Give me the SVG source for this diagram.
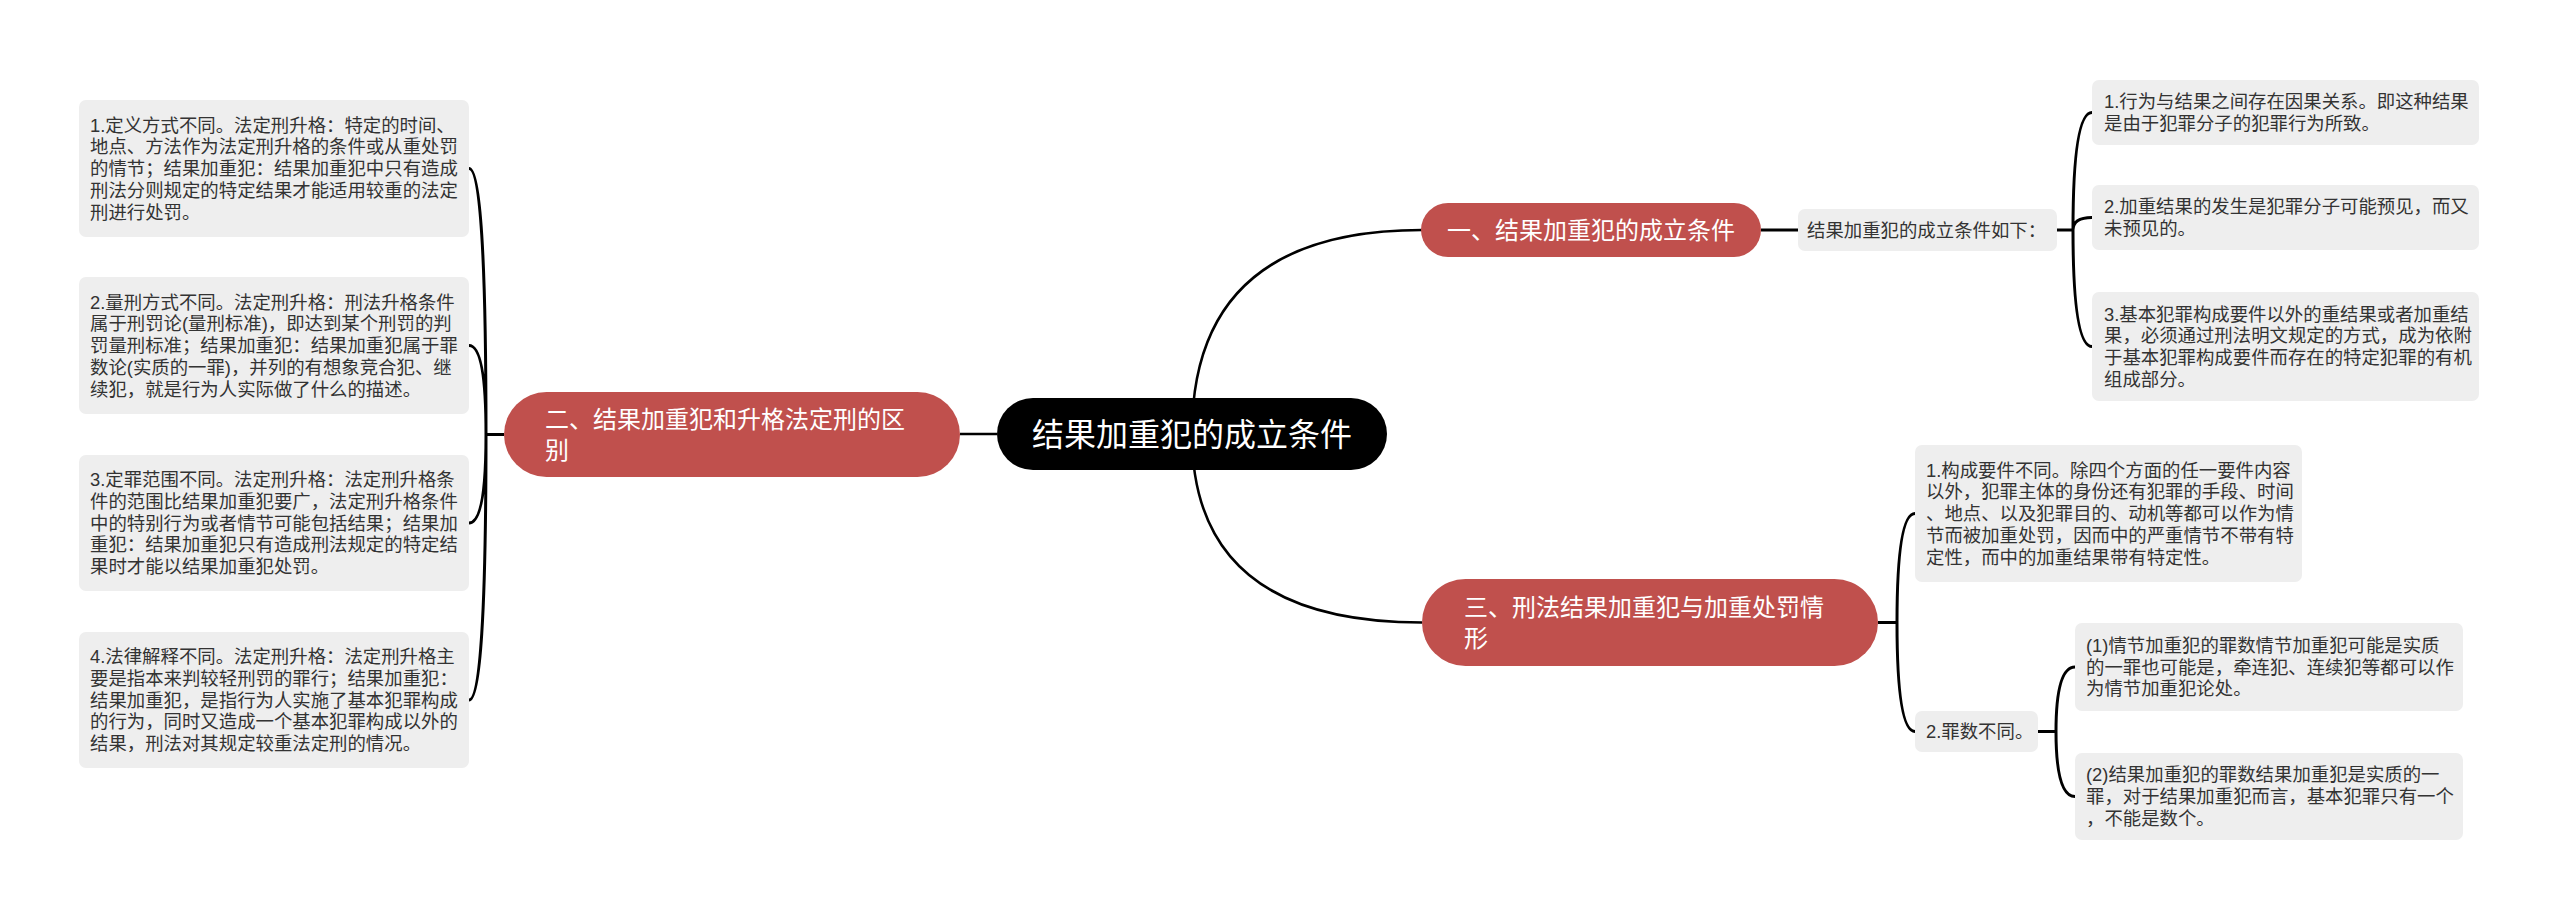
<svg xmlns="http://www.w3.org/2000/svg" width="2560" height="921" viewBox="0 0 2560 921">
<style>
text{font-family:"Liberation Sans","Noto Sans CJK SC",sans-serif}
.leaf rect{fill:#eeeeee}
.leaf text{font-size:18.4px;fill:#333333}
.branch rect{fill:#c0504d}
.branch text{font-size:24px;fill:#ffffff}
.root rect{fill:#000000}
.root text{font-size:32px;fill:#ffffff}
.main{fill:none;stroke:#000;stroke-width:2.5}
.sub{fill:none;stroke:#000;stroke-width:3}
</style>
<rect width="2560" height="921" fill="#ffffff"/>
<g id="connectors">
<path class="main" d="M997 434H960"/>
<path class="main" d="M1192 434Q1192 230 1422 230"/>
<path class="main" d="M1192 434Q1192 622.5 1422 622.5"/>
<path class="sub" d="M1761 230H1798"/>
<path class="sub" d="M2057 230H2073M2073 230Q2073 112.5 2092 112.5M2073 230Q2073 217.5 2092 217.5M2073 230Q2073 346.5 2092 346.5"/>
<path class="sub" d="M504 434.5H486M486 434.5Q486 168.5 469 168.5M486 434.5Q486 345.5 469 345.5M486 434.5Q486 523 469 523M486 434.5Q486 700 469 700"/>
<path class="sub" d="M1878 622.5H1897M1897 622.5Q1897 513.5 1915 513.5M1897 622.5Q1897 731.5 1915 731.5"/>
<path class="sub" d="M2038 731.5H2056M2056 731.5Q2056 667 2075 667M2056 731.5Q2056 796.5 2075 796.5"/>
</g>
<g id="root" class="root">
<rect x="997" y="398" width="390" height="72" rx="36"/>
<text x="1192" y="445.5" text-anchor="middle">结果加重犯的成立条件</text>
</g>
<g id="b1" class="branch">
<rect x="1421" y="203" width="340" height="54" rx="27"/>
<text x="1591" y="238.6" text-anchor="middle">一、结果加重犯的成立条件</text>
</g>
<g id="b2" class="branch">
<rect x="504" y="392" width="456" height="85" rx="42.5"/>
<text x="545" y="427.6">二、结果加重犯和升格法定刑的区<tspan x="545" dy="31">别</tspan></text>
</g>
<g id="b3" class="branch">
<rect x="1422" y="579" width="456" height="87" rx="43.5"/>
<text x="1464" y="615.6">三、刑法结果加重犯与加重处罚情<tspan x="1464" dy="31">形</tspan></text>
</g>
<g id="n1a" class="leaf">
<rect x="1798" y="209" width="259" height="42" rx="7"/>
<text x="1807" y="236.6">结果加重犯的成立条件如下：</text>
</g>
<g id="n1a1" class="leaf">
<rect x="2092" y="80" width="387" height="65" rx="7"/>
<text x="2104" y="108.3">1.行为与结果之间存在因果关系。即这种结果<tspan x="2104" dy="21.7">是由于犯罪分子的犯罪行为所致。</tspan></text>
</g>
<g id="n1a2" class="leaf">
<rect x="2092" y="185" width="387" height="65" rx="7"/>
<text x="2104" y="213.3">2.加重结果的发生是犯罪分子可能预见，而又<tspan x="2104" dy="21.7">未预见的。</tspan></text>
</g>
<g id="n1a3" class="leaf">
<rect x="2092" y="292" width="387" height="109" rx="7"/>
<text x="2104" y="320.6">3.基本犯罪构成要件以外的重结果或者加重结<tspan x="2104" dy="21.7">果，必须通过刑法明文规定的方式，成为依附</tspan><tspan x="2104" dy="21.7">于基本犯罪构成要件而存在的特定犯罪的有机</tspan><tspan x="2104" dy="21.7">组成部分。</tspan></text>
</g>
<g id="n2a" class="leaf">
<rect x="79" y="100" width="390" height="137" rx="7"/>
<text x="90" y="131.7">1.定义方式不同。法定刑升格：特定的时间、<tspan x="90" dy="21.7">地点、方法作为法定刑升格的条件或从重处罚</tspan><tspan x="90" dy="21.7">的情节；结果加重犯：结果加重犯中只有造成</tspan><tspan x="90" dy="21.7">刑法分则规定的特定结果才能适用较重的法定</tspan><tspan x="90" dy="21.7">刑进行处罚。</tspan></text>
</g>
<g id="n2b" class="leaf">
<rect x="79" y="277" width="390" height="137" rx="7"/>
<text x="90" y="308.7">2.量刑方式不同。法定刑升格：刑法升格条件<tspan x="90" dy="21.7">属于刑罚论(量刑标准)，即达到某个刑罚的判</tspan><tspan x="90" dy="21.7">罚量刑标准；结果加重犯：结果加重犯属于罪</tspan><tspan x="90" dy="21.7">数论(实质的一罪)，并列的有想象竞合犯、继</tspan><tspan x="90" dy="21.7">续犯，就是行为人实际做了什么的描述。</tspan></text>
</g>
<g id="n2c" class="leaf">
<rect x="79" y="455" width="390" height="136" rx="7"/>
<text x="90" y="486.2">3.定罪范围不同。法定刑升格：法定刑升格条<tspan x="90" dy="21.7">件的范围比结果加重犯要广，法定刑升格条件</tspan><tspan x="90" dy="21.7">中的特别行为或者情节可能包括结果；结果加</tspan><tspan x="90" dy="21.7">重犯：结果加重犯只有造成刑法规定的特定结</tspan><tspan x="90" dy="21.7">果时才能以结果加重犯处罚。</tspan></text>
</g>
<g id="n2d" class="leaf">
<rect x="79" y="632" width="390" height="136" rx="7"/>
<text x="90" y="663.2">4.法律解释不同。法定刑升格：法定刑升格主<tspan x="90" dy="21.7">要是指本来判较轻刑罚的罪行；结果加重犯：</tspan><tspan x="90" dy="21.7">结果加重犯，是指行为人实施了基本犯罪构成</tspan><tspan x="90" dy="21.7">的行为，同时又造成一个基本犯罪构成以外的</tspan><tspan x="90" dy="21.7">结果，刑法对其规定较重法定刑的情况。</tspan></text>
</g>
<g id="n3a" class="leaf">
<rect x="1915" y="445" width="387" height="137" rx="7"/>
<text x="1926" y="476.7">1.构成要件不同。除四个方面的任一要件内容<tspan x="1926" dy="21.7">以外，犯罪主体的身份还有犯罪的手段、时间</tspan><tspan x="1926" dy="21.7">、地点、以及犯罪目的、动机等都可以作为情</tspan><tspan x="1926" dy="21.7">节而被加重处罚，因而中的严重情节不带有特</tspan><tspan x="1926" dy="21.7">定性，而中的加重结果带有特定性。</tspan></text>
</g>
<g id="n3b" class="leaf">
<rect x="1915" y="711" width="123" height="41" rx="7"/>
<text x="1926" y="738.1">2.罪数不同。</text>
</g>
<g id="n3b1" class="leaf">
<rect x="2075" y="623" width="388" height="88" rx="7"/>
<text x="2086" y="651.9">(1)情节加重犯的罪数情节加重犯可能是实质<tspan x="2086" dy="21.7">的一罪也可能是，牵连犯、连续犯等都可以作</tspan><tspan x="2086" dy="21.7">为情节加重犯论处。</tspan></text>
</g>
<g id="n3b2" class="leaf">
<rect x="2075" y="753" width="388" height="87" rx="7"/>
<text x="2086" y="781.4">(2)结果加重犯的罪数结果加重犯是实质的一<tspan x="2086" dy="21.7">罪，对于结果加重犯而言，基本犯罪只有一个</tspan><tspan x="2086" dy="21.7">，不能是数个。</tspan></text>
</g>
</svg>
